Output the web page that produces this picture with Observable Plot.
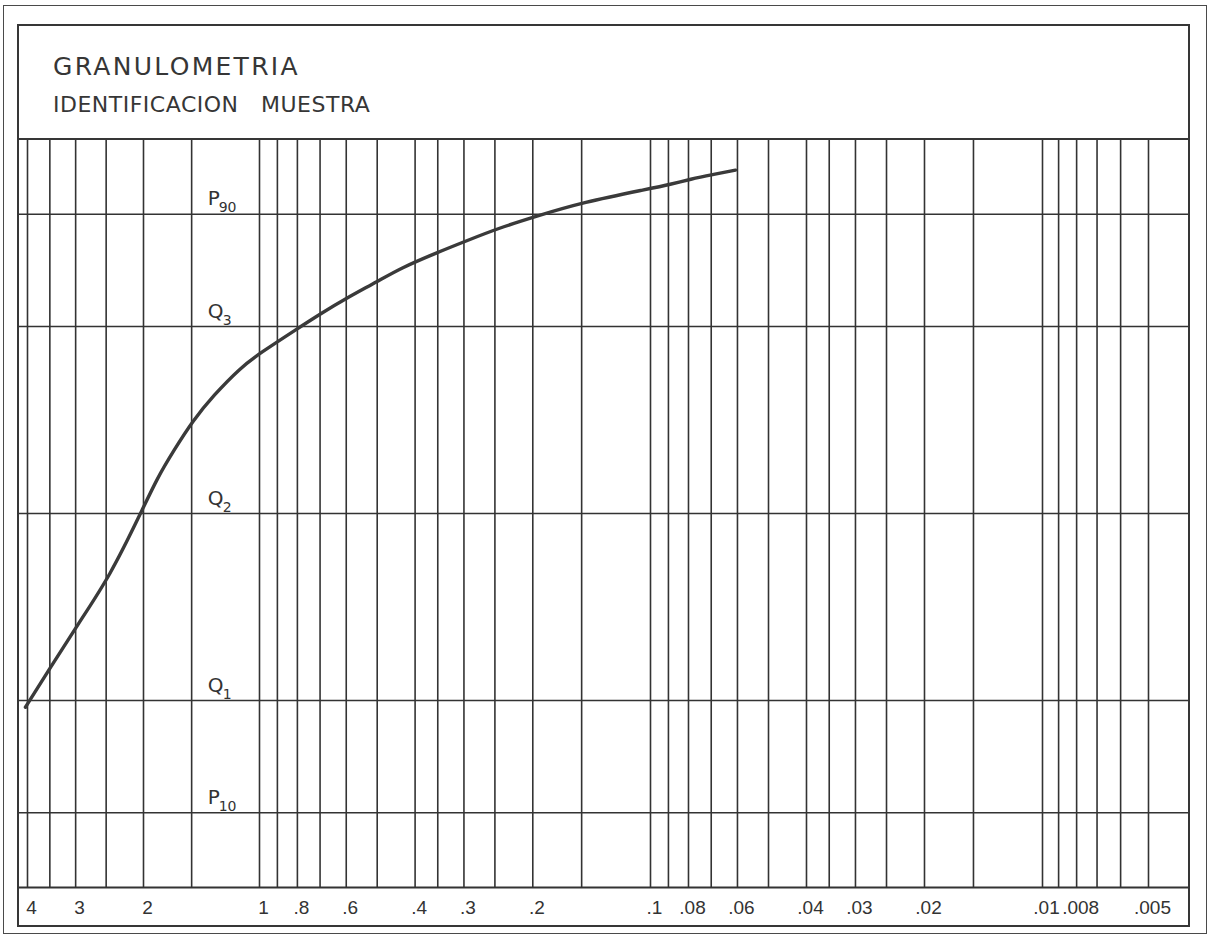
<!DOCTYPE html>
<html>
<head>
<meta charset="utf-8">
<script src="https://cdn.jsdelivr.net/npm/d3@7"></script>
<script src="https://cdn.jsdelivr.net/npm/@observablehq/plot@0.6"></script>
<style>
  html, body { margin: 0; padding: 0; background: #fff; }
  body { width: 1212px; height: 938px; position: relative; overflow: hidden; font-family: "DejaVu Sans", sans-serif; }
  #outer { position: absolute; left: 3px; top: 5px; width: 1204px; height: 929px; border: 1.5px solid #4a4a4a; box-sizing: border-box; }
  #inner { position: absolute; left: 17px; top: 24px; width: 1173px; height: 903px; border: 2px solid #363636; box-sizing: border-box; }
  #header { position: relative; height: 114px; border-bottom: 2px solid #363636; box-sizing: border-box; }
  #title { position: absolute; left: 34px; top: 28px; font-size: 25px; line-height: 25px; letter-spacing: 2.3px; color: #363636; white-space: nowrap; }
  #subtitle { position: absolute; left: 34px; top: 68px; font-size: 22px; line-height: 22px; letter-spacing: 0.5px; word-spacing: 15px; color: #363636; white-space: nowrap; }
  #chart svg { display: block; }
</style>
</head>
<body>
<div id="outer"></div>
<div id="inner">
  <div id="header">
    <div id="title">GRANULOMETRIA</div>
    <div id="subtitle">IDENTIFICACION MUESTRA</div>
  </div>
  <div id="chart"></div>
</div>
<script>
// Vertical grid lines (grain diameter)
const gridDiameters = [4, 3.5, 3, 2.5, 2, 1.5, 1, 0.9, 0.8, 0.7, 0.6, 0.5, 0.4, 0.35, 0.3, 0.25, 0.2, 0.15,
  0.1, 0.09, 0.08, 0.07, 0.06, 0.05, 0.04, 0.035, 0.03, 0.025, 0.02, 0.015,
  0.01, 0.009, 0.008, 0.007, 0.006, 0.005];
// Labelled diameters along the bottom strip
const labelDiameters = [4, 3, 2, 1, 0.8, 0.6, 0.4, 0.3, 0.2, 0.1, 0.08, 0.06, 0.04, 0.03, 0.02, 0.01, 0.008, 0.005];
const labelTexts = ["4", "3", "2", "1", ".8", ".6", ".4", ".3", ".2", ".1", ".08", ".06", ".04", ".03", ".02", ".01", ".008", ".005"];
// Horizontal reference levels (cumulative %)
const levelPercents = [90, 75, 50, 25, 10];
const levelLetters = ["P", "Q", "Q", "Q", "P"];
const levelSubscripts = ["90", "3", "2", "1", "10"];
const labelColumnDiameter = 1.5;
// Cumulative curve of the sample
const sampleDiameter = [4.05, 3.49, 2.95, 2.44, 2.035, 1.84, 1.67, 1.49, 1.316, 1.12, 1.0, 0.80,
  0.698, 0.603, 0.496, 0.436, 0.351, 0.294, 0.246, 0.197, 0.149, 0.101, 0.0889, 0.079, 0.0695, 0.0607];
const samplePercent = [24.1, 29.4, 35.3, 41.7, 50.0, 54.8, 58.4, 62.4, 65.8, 69.5, 71.4, 74.7,
  76.7, 78.7, 81.1, 82.8, 84.9, 86.5, 88.1, 89.7, 91.6, 93.4, 94.0, 94.7, 95.3, 95.9];

const sample = sampleDiameter.map((d, i) => ({diameter: d, percent: samplePercent[i]}));
const levels = levelPercents.map((p, i) => ({percent: p, letter: levelLetters[i], sub: levelSubscripts[i], x: labelColumnDiameter}));
const tickLabels = labelDiameters.map((d, i) => ({diameter: d, label: labelTexts[i]}));

const ink = "#333";
const chart = Plot.plot({
  width: 1169,
  height: 785,
  marginTop: 0,
  marginRight: 0,
  marginBottom: 38,
  marginLeft: 0,
  style: {fontFamily: "DejaVu Sans, sans-serif", background: "transparent", color: ink},
  x: {type: "log", domain: [4, 1, 0.1, 0.01, 0.005], range: [8, 240, 631, 1023, 1129], axis: null},
  y: {type: "linear", domain: [0, 100], range: [747, -1], axis: null},
  marks: [
    Plot.gridX(gridDiameters, {stroke: ink, strokeOpacity: 1, strokeWidth: 1.6}),
    Plot.gridY(levelPercents, {stroke: ink, strokeOpacity: 1, strokeWidth: 1.6}),
    Plot.ruleY([0], {stroke: ink, strokeWidth: 1.8}),
    Plot.text(tickLabels, {x: "diameter", text: "label", frameAnchor: "bottom", lineAnchor: "top", dy: 13, dx: 4, fontSize: 19, fontFamily: "Liberation Sans, sans-serif", fill: ink}),
    Plot.text(levels, {x: "x", y: "percent", text: "letter", fontSize: 20, fill: ink, textAnchor: "start", lineAnchor: "bottom", dx: 16, dy: -9}),
    Plot.text(levels.filter(d => d.letter === "P"), {x: "x", y: "percent", text: "sub", fontSize: 14, fill: ink, textAnchor: "start", lineAnchor: "bottom", dx: 27, dy: -2}),
    Plot.text(levels.filter(d => d.letter === "Q"), {x: "x", y: "percent", text: "sub", fontSize: 14, fill: ink, textAnchor: "start", lineAnchor: "bottom", dx: 31, dy: -2}),
    Plot.line(sample, {x: "diameter", y: "percent", curve: "basis", stroke: "#3a3a3a", strokeWidth: 3.4, strokeLinecap: "round", strokeLinejoin: "round"})
  ]
});
document.getElementById("chart").append(chart);
</script>
</body>
</html>
